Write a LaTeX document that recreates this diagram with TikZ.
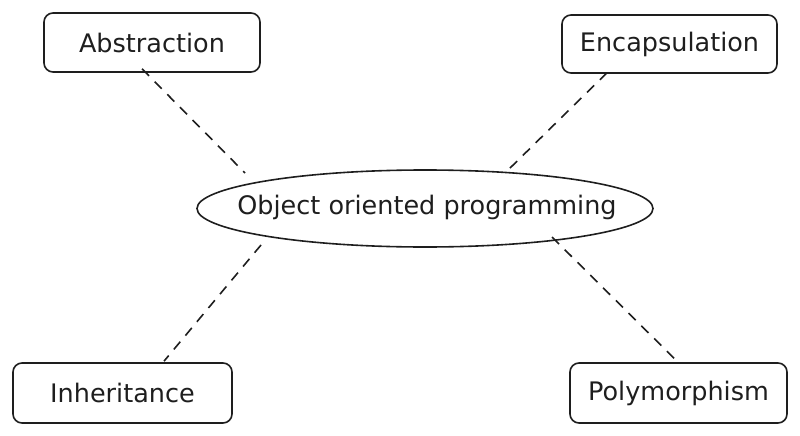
\documentclass[tikz,border=0pt]{standalone}
\usepackage{fontspec}
\setmainfont{DejaVu Sans}
\usetikzlibrary{calc,shapes.geometric}
\definecolor{ink}{HTML}{1E1E1E}
\begin{document}
\begin{tikzpicture}[x=1pt,y=-1pt,
  concept/.style={draw=ink,line width=1.6pt,rounded corners=9pt,inner sep=0pt,
    font=\fontsize{25.5}{30}\selectfont,text=ink},
  hub/.style={draw=ink,line width=1.6pt,ellipse,inner sep=0pt,
    minimum width=456pt,minimum height=77pt},
  hubtext/.style={font=\fontsize{25.5}{30}\selectfont,text=ink,inner sep=0pt},
  link/.style={draw=ink,line width=1.6pt,dash pattern=on 10pt off 8pt}]
\useasboundingbox (0,0) rectangle (800,436);
\node[concept,minimum width=216pt,minimum height=59pt] (abs) at (152,42.5) {Abstraction};
\node[concept,minimum width=215pt,minimum height=58pt] (enc) at (669.5,44) {Encapsulation};
\node[concept,minimum width=219pt,minimum height=60pt] (inh) at (122.5,393) {Inheritance};
\node[concept,minimum width=217pt,minimum height=60pt] (poly) at (678.5,393) {Polymorphism};
\node[hub] (oop) at (425,208.5) {};
\node[hubtext] (ooptext) at (427,207) {Object oriented programming};
\draw[link] ($(abs.south)+(-10,-4)$) -- ($(oop.center)+(-180,-35.5)$);
\draw[link] ($(enc.south)+(-62.5,-1)$) -- ($(oop.center)+(81,-36.5)$);
\draw[link] ($(oop.center)+(-164,36.5)$) -- ($(inh.north)+(41.5,-1)$);
\draw[link] ($(oop.center)+(127,28.5)$) -- ($(poly.north)+(-1.5,-1)$);
\end{tikzpicture}
\end{document}
